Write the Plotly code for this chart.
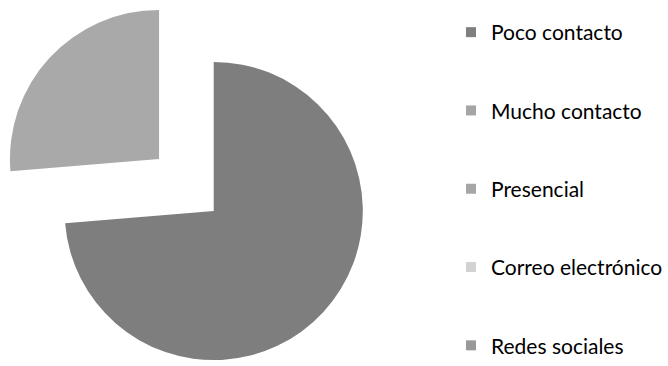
import plotly.graph_objects as go

categories = ["Poco contacto", "Mucho contacto", "Presencial", "Correo electrónico", "Redes sociales"]
values = [14, 5, 0, 0, 0]
colors = ["#7e7e7e", "#a9a9a9", "#a6a6a6", "#d3d3d3", "#999999"]
legend_colors = ["#7f7f7f", "#a5a5a5", "#a6a6a6", "#d2d2d2", "#989898"]
pulled = "Mucho contacto"

W, H = 668, 366
R = 150
main_c = (215, 211)
pull_c = (160, 159)

def dom(c):
    cx, cy = c
    return dict(x=[(cx - R) / W, (cx + R) / W], y=[(H - cy - R) / H, (H - cy + R) / H])

transparent = "rgba(0,0,0,0)"
main_cols = [transparent if lab == pulled else col for lab, col in zip(categories, colors)]
pull_cols = [col if lab == pulled else transparent for lab, col in zip(categories, colors)]

fig = go.Figure()
for cols, c in [(main_cols, main_c), (pull_cols, pull_c)]:
    fig.add_trace(go.Pie(
        labels=categories, values=values, sort=False, direction="clockwise", rotation=0,
        marker=dict(colors=cols, line=dict(width=0)), textinfo="none", hoverinfo="label+value",
        showlegend=False, domain=dom(c),
    ))

for lab, col in zip(categories, legend_colors):
    fig.add_trace(go.Scatter(
        x=[None], y=[None], mode="markers", name=lab, legendgroup=lab,
        marker=dict(symbol="square", size=10, color=col),
    ))

fig.update_layout(
    width=W, height=H, margin=dict(l=0, r=0, t=0, b=0),
    paper_bgcolor="white", plot_bgcolor="white",
    xaxis=dict(visible=False), yaxis=dict(visible=False),
    font=dict(family="Lato", size=21, color="#000000"),
    legend=dict(x=454 / W, xanchor="left", y=1 - 15 / H, yanchor="top",
                tracegroupgap=48, font=dict(size=21), bgcolor="rgba(0,0,0,0)"),
)
fig.write_html("out.html", config={"displayModeBar": False},
               post_script="document.body.style.margin='0px';document.body.style.overflow='hidden';")
